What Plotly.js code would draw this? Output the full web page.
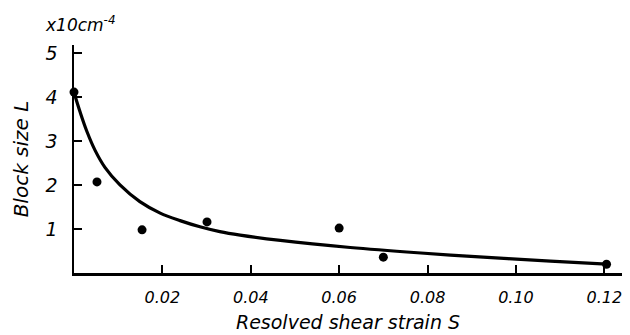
<!DOCTYPE html>
<html>
<head>
<meta charset="utf-8">
<script src="https://cdn.plot.ly/plotly-3.0.1.min.js"></script>
<style>html,body{margin:0;padding:0;background:#fff;}#chart{width:630px;height:335px;}</style>
</head>
<body>
<div id="chart"></div>
<script>
// Measured points
var strainPts = [0.0, 0.0052, 0.0154, 0.0301, 0.0600, 0.0700, 0.1205];
var blockPts  = [4.11, 2.07, 0.98, 1.16, 1.02, 0.36, 0.20];
// Fitted curve
var strainCurve = [0.0, 0.0014, 0.0029, 0.0048, 0.0070, 0.0104, 0.0149, 0.0195, 0.0240, 0.0285, 0.0330, 0.0376, 0.0467, 0.0625, 0.0777, 0.0926, 0.1078, 0.1205];
var blockCurve  = [4.10, 3.65, 3.22, 2.78, 2.40, 2.00, 1.62, 1.36, 1.19, 1.05, 0.94, 0.86, 0.74, 0.58, 0.46, 0.36, 0.27, 0.20];
// Ticks
var xTickVals = [0.02, 0.04, 0.06, 0.08, 0.10, 0.12];
var xTickText = ["0.02", "0.04", "0.06", "0.08", "0.10", "0.12"];
var yTickVals = [1, 2, 3, 4, 5];
var yTickText = ["1", "2", "3", "4", "5"];

var fontFam = "DejaVu Sans, sans-serif";

var traces = [
  {x: strainCurve, y: blockCurve, mode: 'lines', type: 'scatter',
   line: {color: '#000', width: 3.2, shape: 'spline', smoothing: 1}, hoverinfo: 'skip'},
  {x: strainPts, y: blockPts, mode: 'markers', type: 'scatter',
   marker: {color: '#000', size: 9}, cliponaxis: false}
];

var layout = {
  width: 630, height: 335,
  margin: {l: 74, r: 8, t: 45, b: 62},
  paper_bgcolor: '#fff', plot_bgcolor: '#fff',
  showlegend: false,
  font: {family: fontFam, color: '#000', style: 'italic'},
  xaxis: {
    range: [0, 0.124], showgrid: false, zeroline: false,
    showline: true, linecolor: '#000', linewidth: 2.5,
    ticks: 'inside', ticklen: 8, tickwidth: 2, tickcolor: '#000',
    tickvals: xTickVals, ticktext: xTickText,
    ticklabelstandoff: 8,
    tickfont: {family: fontFam, size: 16, style: 'italic'},
    title: {text: 'Resolved shear strain S', font: {family: fontFam, size: 19, style: 'italic'}, standoff: 10}
  },
  yaxis: {
    range: [0, 5.18], showgrid: false, zeroline: false,
    showline: true, linecolor: '#000', linewidth: 2.5,
    ticks: 'inside', ticklen: 8, tickwidth: 2, tickcolor: '#000',
    tickvals: yTickVals, ticktext: yTickText,
    ticklabelstandoff: 10,
    tickfont: {family: fontFam, size: 19, style: 'italic'},
    title: {text: 'Block size L', font: {family: fontFam, size: 20, style: 'italic'}, standoff: 12}
  },
  annotations: [{
    xref: 'paper', yref: 'paper', x: -0.057, y: 1.035, xanchor: 'left', yanchor: 'bottom',
    text: 'x10cm<sup>-4</sup>', showarrow: false,
    font: {family: fontFam, size: 17, style: 'italic'}
  }]
};

Plotly.newPlot('chart', traces, layout, {staticPlot: true});
</script>
</body>
</html>
